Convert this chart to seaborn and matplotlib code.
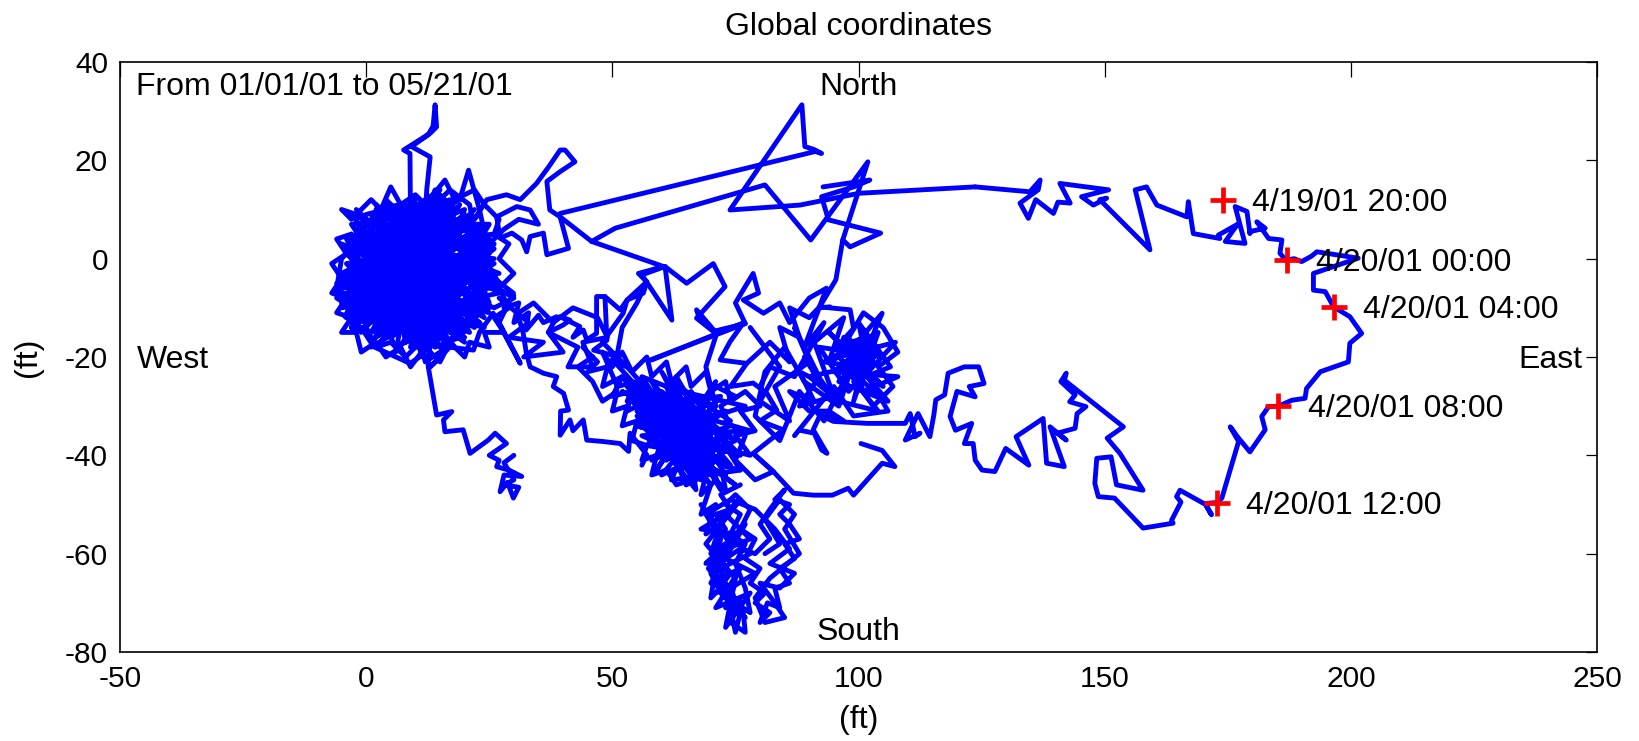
import matplotlib
matplotlib.use("Agg")
import matplotlib.pyplot as plt
import seaborn as sns

# track pieces, (x, y) in ft
blob = [(0, 0), (3, -4), (-2, -7), (4, -9), (1, -13), (7, -11), (5, -15), (10, -12), (8, -17), (13, -14),
        (11, -19), (15, -16), (14, -12), (19, -14), (17, -10), (22, -12), (20, -7), (25, -9), (23, -4), (27, -5),
        (24, 0), (26, 3), (21, 2), (23, 7), (18, 5), (20, 10), (15, 8), (17, 12), (12, 10), (15, 14),
        (9, 10), (10, 7), (5, 9), (7, 11), (2, 10), (4, 6), (-1, 7), (1, 3), (-4, 4), (-1, -1),
        (-5, -3), (-2, -6), (-6, -8), (-3, -10), (0, -12), (2, -8), (6, -6), (3, -2), (8, -3), (6, 2),
        (11, 0), (9, 4), (14, 2), (12, -4), (16, -2), (15, -7), (19, -5), (18, 0), (22, -2), (20, 4),
        (24, 5), (21, 8), (16, 6), (13, 5), (10, 9), (8, 5), (4, 2), (7, -1), (2, -3), (5, -6),
        (9, -8), (12, -8), (16, -11), (20, -10), (24, -7), (21, -4), (17, -3), (13, -1), (10, -5), (6, -9),
        (3, -12), (-1, -10), (-4, -5), (-2, 0), (0, 5), (3, 8), (6, 10), (11, 11), (16, 10), (19, 7),
        (23, 3), (25, -2), (22, -8), (18, -12), (13, -16), (9, -14), (5, -12), (1, -6), (4, -1), (8, 1),
        (12, 3), (15, -1), (11, -6), (7, -4), (2, 1), (-3, 2), (1, 8), (8, 8), (14, 11), (18, 8),
        (21, 5), (17, 1), (14, -4), (18, -8), (23, -11), (19, -16), (14, -18), (10, -16), (6, -18), (4, -14),
        (0, -15), (-3, -14), (1, -9), (5, -3), (9, -1), (13, -9), (17, -13), (21, -15), (16, -6), (12, 1),
        (9, 3), (5, 5), (1, 1), (-2, 3), (-5, 0), (-6, -6), (-2, -9), (2, -11), (7, -14), (11, -10),
        (15, -12), (19, -9), (23, -6), (26, -6), (24, -1), (20, 1), (16, 4), (13, 8), (9, 9), (4, 10),
        (0, 9), (-2, 5), (2, 4), (6, 6), (10, 2), (14, 6), (18, 3), (22, 6), (21, 11), (17, 14),
        (13, 10), (10, 11), (6, 8), (3, 5), (-1, -3), (3, -7), (8, -10), (12, -12), (16, -15), (11, -15),
        (7, -7), (10, -3), (15, -4), (20, -2), (25, 1), (23, 10), (20.8, 18), (19, 12), (15, 10), (11, 9),
        (13, 0), (17, -4), (21, -8), (26, -10), (30, -8), (25, -5), (20, -13), (15, -19), (12, -21), (11, -17),
        (8, -20), (5, -17), (2, -18), (0, -14), (-3, -14), (-1, -8)]
blob_chords = [(0, -1), (22, 4), (-3, -8), (19, -15), (6, 10), (25, -6), (-2, 6), (14, -17), (17, 11), (-4, -3),
               (23, -10), (3, 10), (8, -17), (24, 2), (-1, -12), (20, 9), (1, -5), (26, -3), (5, -16), (12, 11),
               (-5, -6), (21, -4), (9, -18), (16, 8), (-2, -11), (24, -9), (2, 7), (18, -14), (11, 10), (0, -9),
               (25, 4), (4, -13), (15, 10), (-3, 2), (20, -11), (7, 9), (13, -17), (22, 7), (-1, -4), (19, -7),
               (6, -12), (10, 10), (23, -1), (-4, -9), (16, -16), (14, 7), (1, -15), (26, 0), (3, 2), (18, 12),
               (8, -15), (-3, 5), (21, -12), (11, -2), (5, 10), (24, -12), (0, 3), (17, -9), (2, -14), (13, 9)]
blob_chords2 = [(-3, -4), (26, -1), (2, -16), (18, 10), (-5, -9), (24, 6), (6, -19), (12, 12), (-2, -13),
                (27, -7), (1, 9), (15, -18), (-4, 1), (22, -14), (8, 11), (25, -10), (-1, 6), (20, -17),
                (4, -6), (23, 9), (-6, -5), (17, -1), (3, -17), (19, 11), (-3, -11), (26, 2), (7, -13),
                (10, 12), (0, -7), (24, -4), (5, 8), (13, -19), (-4, -1), (21, 3), (9, -16), (16, 12),
                (-2, -5), (25, -11), (2, 11), (14, -14), (-5, 3), (23, -8), (6, -15), (11, 8), (-1, -15),
                (22, 10), (3, -9), (18, -18), (-3, 9), (27, -3), (8, -5), (15, 13), (-4, -12), (20, -3),
                (4, 12), (12, -20), (0, -3), (26, 5), (7, 3), (17, -15), (-2, 10), (24, -14), (9, -10),
                (14, 14), (1, -18), (21, -6), (-5, -10), (19, 5), (5, -2), (11, -14), (-3, 7), (25, 7),
                (10, -18), (16, 1), (-1, -9), (23, -13), (2, 5), (13, 12), (6, -7), (20, -16)]
blob_fringe = [(-3, 8), (-5, 10), (-2, 9), (1, 12), (3, 10), (5, 14.6), (7, 11), (10, 13), (12, 11), (16, 16),
               (18, 12), (22, 14), (24, 11), (27, 8), (26, 5), (29, 3), (27, 0), (30, -3), (27, -6), (29, -10),
               (26, -12), (28, -15), (24, -15), (25, -18), (21, -17), (20, -20), (17, -17), (15, -21), (12, -18),
               (9, -22), (7, -18), (4, -20), (2, -17), (-1, -19), (-2, -15), (-5, -15), (-3, -12), (-6, -11),
               (-4, -8), (-7, -7), (-5, -4), (-7, -1), (-4, 1), (-6, 4), (-3, 5)]
blob_edge = [(-2, -2), (-6, -6.7), (-3, -9), (-4.3, -11.8), (-1, -14), (1.5, -17.9), (8.9, -21.3), (11, -19.9),
             (15.3, -19.9), (13, -22), (17, -18), (21.8, -18.6), (23, -15), (25.8, -11.1), (31.3, -21.3),
             (27, -13), (29.9, -7), (26, -4)]
spike = [(9, 9), (8.9, 21.4), (7.6, 22.1), (13, 25.5), (14.3, 26.8), (14, 31.3), (13.6, 27), (12.6, 25.2),
         (9.2, 22.8), (13, 20.7), (12.3, 14), (12, 8)]
ne_cluster = [(22, 8), (24.5, 12), (28.5, 13), (31.3, 12), (34.6, 15.3), (37.3, 19), (39.4, 22.1), (40.4, 22.1),
              (42.4, 19.7), (39.4, 17.7), (36.7, 15.7), (37.3, 9.9), (39.4, 8.5), (41.1, 2.1), (36.7, 0.8),
              (36, 5.2), (33.3, 4.5), (32.6, 1.4), (31.6, 3.8), (29.6, 5.2), (27.2, 4.2), (26.5, 8.5),
              (30.6, 10.6), (33.3, 9.9), (35, 7), (31, 8), (28, 6), (25, 3)]
tail = [(13, -16), (12.6, -21.9), (14.3, -31.8), (17.4, -31.1), (15.7, -32.8), (16, -35.2), (19.7, -34.8),
        (21.1, -39.6), (24.8, -36.9), (26.2, -35.5), (28.5, -37.6), (25, -40), (27, -41), (26.5, -42.3),
        (29, -43), (31.6, -44.3), (28, -44), (27.2, -47.4), (28.7, -45.5), (29.9, -48.7), (31, -46.5),
        (28, -46), (30, -45), (28, -41.5), (30, -40)]
corridor = [(26, -6), (30, -7.5), (28, -10), (31, -9), (30, -13), (33, -11), (32.5, -14.5), (35, -11.5),
            (36, -13), (38.7, -11.8), (37, -15), (40, -13.5), (41.4, -12.5), (39.4, -11.8), (43.4, -13.8),
            (42, -16), (44.1, -14.5), (44.8, -16.5), (46.8, -15.2), (46.8, -7.7), (48.5, -7.7), (48.9, -16.6),
            (46.2, -18.6), (50.9, -19.9), (48, -17), (52.2, -11.1), (53, -8.4), (56.3, -7), (57, -4.7),
            (55, -9), (52, -14), (50.9, -19.9), (52.9, -22), (50, -20.5), (54.3, -25.3)]
corridor2 = [(31, -12), (31.9, -15.2), (32.5, -19), (33.3, -22), (36, -23.3), (38.7, -24), (38, -26),
             (40.1, -27.4), (41.1, -30.8), (39.5, -31), (39.4, -35.9), (41.4, -32.8), (42, -35), (44.1, -32.8),
             (44.8, -36.9), (48.2, -37.2), (51.6, -37.6), (53.3, -39.2), (53.6, -35.5), (57, -39.9), (56, -42)]
corridor3 = [(27, -8), (33, -13), (29, -16), (36, -17), (32, -20), (40, -19), (37, -15), (43, -18), (41, -22),
             (46, -22), (44, -17), (49, -16), (47, -12), (42, -10), (38, -13), (34, -9), (31, -11)]
mid = [(53, -22), (60, -30), (55, -27), (64, -36), (58, -25), (70, -40), (62, -31), (52, -24), (66, -42),
       (57, -33), (72, -35), (61, -26), (68, -45), (55, -31), (74, -42), (63, -29), (59, -40), (71, -30),
       (56, -24), (65, -38), (60, -44), (75, -37), (58, -28), (67, -33), (54, -29), (70, -46), (62, -35),
       (77, -30), (64, -27), (58, -37), (73, -44), (60, -23), (68, -38), (55, -34), (76, -40), (66, -30),
       (61, -41), (72, -28), (57, -30), (69, -43), (63, -33), (52, -27), (71, -37), (59, -32), (65, -46),
       (74, -33), (62, -25), (67, -41), (56, -36), (78, -35), (64, -31), (60, -38), (70, -33), (54, -25),
       (73, -39), (66, -44), (58, -34), (75, -46), (63, -37), (69, -28), (61, -29), (67, -36), (57, -27),
       (72, -42), (65, -33), (59, -43), (71, -25), (64, -40), (53, -26), (68, -31), (62, -45), (76, -43),
       (66, -27), (60, -35), (73, -31), (58, -41), (70, -36), (63, -24), (67, -47), (55, -32), (74, -36),
       (61, -33), (69, -40), (57, -38), (65, -29), (72, -47), (60, -27), (68, -34), (64, -43), (59, -31)]
mid2 = [(44, -18), (47, -21), (45, -23), (49, -22), (48, -26), (52, -24), (50, -28), (54, -27), (53, -31),
        (57, -29), (55, -34), (59, -32), (58, -37), (62, -35), (60, -40), (64, -38), (63, -43), (67, -41),
        (65, -46), (69, -44), (68, -48), (71, -45), (73, -47), (72, -42), (76, -43), (74, -39), (78, -40),
        (75, -36), (79, -35), (76, -31), (80, -30), (77, -27), (74, -29), (73, -25), (70, -27), (69, -23),
        (66, -26), (65, -22), (62, -25), (61, -21), (58, -24), (57, -20), (54, -23), (52, -19), (50, -22),
        (48, -19), (51, -26), (55, -25), (53, -29), (58, -27), (56, -32), (61, -30), (59, -35), (64, -33),
        (62, -38), (67, -36), (65, -41), (70, -39), (68, -44), (72, -40), (71, -35), (74, -34), (72, -30),
        (75, -28), (71, -26), (68, -30), (66, -28), (63, -31), (61, -28), (58, -31), (57, -35), (60, -34),
        (61, -37), (64, -36), (66, -39), (69, -37), (70, -42), (66, -45), (63, -46), (61, -43), (58, -44),
        (59, -40), (56, -41), (57, -38), (54, -37), (55, -33), (52, -34), (53, -30), (50, -31), (51, -27),
        (48, -29), (46, -25), (43, -22), (46, -20)]
mid_right = [(71, -30), (69, -22), (71.2, -15.2), (67.8, -12.5), (67.1, -10.4), (71.2, -15.2), (76.6, -13.1),
             (73.9, -16.9), (71.9, -20.6), (77.3, -21.3), (74, -26), (78.6, -25.3), (81.4, -27.4),
             (83.4, -30.8), (80, -33), (84.7, -34.8), (82, -36.9), (78.6, -39.6), (82.7, -43.3), (79, -45),
             (75, -41), (77, -36), (73, -33)]
mid_link = [(58, -20.6), (76.6, -13.1)]
south = [(70, -46), (68, -52), (71, -50), (69, -56), (72, -54), (70, -60), (73, -58), (69.5, -63), (72, -66),
         (70.5, -62), (74, -64), (71, -68), (75, -66), (73, -71), (76, -69), (74, -74), (77, -76), (76.5, -71),
         (78, -72), (77, -67), (75, -62), (77, -58), (74, -56), (76, -52), (73, -50), (75, -48), (78, -51),
         (76, -55), (79, -57), (77, -61), (80, -63), (78, -66), (81, -68), (79, -70), (82, -72), (80, -74),
         (81.5, -70), (84, -71), (83, -67), (86, -66), (84, -63), (87, -61), (85, -58), (88, -57), (86, -54),
         (84, -52), (86, -50), (83, -49), (85, -47), (82, -51), (80, -54), (82, -57), (79, -60), (76, -59),
         (73, -61), (71, -58), (73, -55), (71, -52), (74, -51), (72, -48), (76, -46)]
south2 = [(68, -50), (74, -58), (69, -62), (77, -54), (70, -66), (76, -63), (71, -71), (78, -68), (73, -75),
          (75, -65), (69, -58), (76, -49), (70, -54), (78, -60), (72, -63), (74, -70), (77, -73), (72, -68),
          (70, -64), (75, -56), (68, -55), (73, -52), (78, -57), (71, -60), (79, -64), (74, -67), (76, -72),
          (75, -76), (73, -66), (70, -69), (72, -57), (69, -52), (74, -49), (79, -51), (83, -55), (86, -59),
          (82, -62), (87, -64), (84, -67), (80, -66), (83, -70), (85, -73), (81, -74), (79, -69), (82, -65),
          (88, -60), (85, -55), (87, -52), (84, -49), (81, -53), (84, -58), (81, -60)]
bottom_link = [(78.6, -39.6), (82.7, -43.3), (86.8, -47.7), (90.8, -48.1), (94.7, -48.1), (97.9, -46.7),
               (99, -48.1), (104.8, -41.6), (107.4, -42.3), (104.8, -39), (100.5, -37.6)]
mid_top = [(39.4, 8.5), (45.8, 3.5), (60.4, -1.6), (55.3, -3), (57, -4.7), (53, -8.4), (51.6, -10.4),
           (48.5, -7.7)]
mid_top2 = [(60.7, -1.6), (62.1, -12.5), (56, -3.3), (60.7, -1.6), (65.1, -5), (70.5, -1), (72.9, -5.7),
            (67.1, -12.1), (70.5, -14.8), (77, -13.2), (57.7, -20.6)]
mid_top3 = [(77, -13.2), (75, -9), (78.6, -3), (79.7, -7), (76.6, -8.4), (80.7, -11.1), (84, -9), (86, -13),
            (90, -8), (93.5, -6), (92, -10), (94.2, -9.8)]
zline = [(39.4, 9.2), (91.2, 21.8), (92.5, 21.4), (91, 22.2), (89.1, 22.8), (88.5, 31.3), (73.9, 9.9),
         (88.1, 10.9), (100.1, 13.3), (123.7, 14.6)]
diag2 = [(45.8, 3.5), (50.6, 6.2), (81, 15), (90.3, 3.8), (101.9, 19.7), (96.8, 3.8), (95.4, -4.3),
         (92.1, -9.8), (98.3, -10.4), (99, -14.2)]
zext = [(92.8, 14.6), (102.3, 16), (99, 14.6), (92.5, 12.6), (93.9, 7.9), (104.5, 5.2), (98.3, 2.4),
        (96.8, 3.8)]
mid_link2 = [(77.3, -21.3), (82, -17), (86, -21), (84, -14), (88, -16), (86, -10), (90, -12), (92.1, -9.8),
             (89, -18), (93, -13), (87, -24), (82, -22), (80, -26)]
upper_mid = [(99, -14.2), (95.5, -18), (101.5, -16), (97, -22), (104, -19), (99, -25), (106.5, -22),
             (100, -13), (103, -27), (96, -20), (107.5, -17), (102, -23), (94, -15), (105, -26), (98, -19),
             (104.8, -11.1), (101, -20), (96, -25), (106, -29), (100, -22), (93, -21), (104, -15), (99, -29),
             (102, -17), (95, -23), (108, -24), (101, -27), (97, -16), (105, -20), (92, -18), (98, -27),
             (103, -21), (90, -24), (96, -29), (104, -31), (100, -26), (94, -27), (89, -20), (92, -25),
             (88, -23), (91, -29), (86, -27), (90, -31), (94, -31), (97, -33), (92.2, -31.8)]
upper_mid2 = [(78, -14), (84, -22), (80, -29), (86, -33), (83, -26), (90, -21), (87, -14), (92, -24), (88, -30),
              (95, -28), (91, -17), (97, -12), (94, -21), (100, -18), (96, -30), (89, -25), (85, -18), (81, -23),
              (79, -32), (84, -37), (88, -27), (93, -33), (98, -23), (103, -30), (107, -26), (104, -22),
              (108, -19), (105, -14), (101, -11), (98, -16), (102, -24), (106, -31), (99, -32), (95, -26),
              (91, -31), (87, -36)]
east_loop = [(88.1, -34.9), (91, -35.5), (92.5, -38.9), (93.6, -39.6), (90.8, -34.8), (92.2, -31.8),
             (94.9, -33.1), (101.7, -33.5), (109.5, -33.5), (110.5, -31.5), (111.5, -36.2), (112.5, -35.5),
             (109.5, -36.9), (112.1, -31.5), (114.5, -36.2), (115.3, -31.8), (115.7, -28.7), (117.5, -27.7),
             (118.2, -23.3), (121.5, -22), (124.4, -22), (125.5, -25.4), (122.5, -26), (123.7, -28.1),
             (120, -27), (118.6, -32.1), (119.7, -34.9), (123, -33.5), (121.5, -37.6), (123.3, -37.6),
             (123.7, -41), (125.1, -43), (127.7, -43.3), (129.9, -38.6), (134.6, -42), (132, -36.2),
             (137.5, -32.5), (138.2, -41.6), (141.8, -42.3), (138.9, -34.2), (142.2, -36.9), (140.4, -35.5),
             (144, -34.5), (144.4, -31.5), (146.2, -30.1), (142.9, -29.1), (144, -27.7), (141.1, -25),
             (142.2, -23.3), (141.8, -24.7), (153.8, -34.2), (150.5, -36.5), (153.1, -39.6), (157.8, -47.1),
             (152.4, -46), (151.3, -40.3), (148.4, -40.6), (148, -45.7), (148.7, -48.4), (152, -48.7),
             (157.8, -54.8), (163.9, -53.8), (163.6, -53.2), (165.5, -49.5), (164.6, -48.4), (165.3, -47.1),
             (170.5, -50), (171.7, -52.1), (170.4, -49.8), (172.8, -49.6), (173.8, -48.7), (175.1, -44.3),
             (177.2, -37.2), (175.5, -34.2), (177.2, -36.5), (179.5, -39.3), (182.6, -34.8), (181.9, -32.1),
             (183.3, -30.1), (185.3, -30), (188, -28.8), (190.7, -28.4), (191, -26.4), (193.8, -23),
             (199.5, -21), (199.8, -17.2), (202.2, -15.2), (199.8, -11.8), (196.5, -9.8), (194.8, -6.7),
             (192.4, -6.4), (192.4, -3), (201.5, 0.1), (193.1, 1.4), (192, 0.5), (190, -0.6), (188.5, 0),
             (186.8, -0.3), (185.6, 1.1), (186, 3.8), (183.3, 4.1), (180.9, 7.5), (182.6, 6.2), (179.5, 5.5),
             (179.5, 5.1), (178.9, 9.6), (176.5, 10.6), (178.5, 3.1), (174.5, 3.5), (177, 7), (173.1, 4.8),
             (173.4, 4.1), (168, 5.1), (167, 11.6), (166.7, 8.5), (160.6, 10.9), (158.5, 14.6), (156.2, 14),
             (159.2, 1.8), (149, 12), (150.4, 12.3), (147.7, 10.9), (145.3, 12.6), (150.8, 14), (140.9, 15.3),
             (143, 11.3), (140.5, 11.5), (139.6, 9.2), (136, 12), (134.5, 8.2), (132.8, 11.3), (136.5, 14),
             (136.9, 16), (134.8, 13.6), (123.7, 14.6)]

segments = [blob, blob_chords, blob_chords2, blob_fringe, blob_edge, spike, ne_cluster, tail, corridor,
            corridor2, corridor3, mid, mid2, mid_right, mid_link, south, south2, bottom_link, mid_top,
            mid_top2, mid_top3, zline, diag2, zext, mid_link2, upper_mid, upper_mid2, east_loop]

# red crosses on 19-20 April and their labels
mark_x = [174.0, 187.0, 196.5, 185.3, 172.8]
mark_y = [11.9, -0.3, -9.8, -30.0, -49.6]
mark_labels = ["4/19/01 20:00", "4/20/01 00:00", "4/20/01 04:00", "4/20/01 08:00", "4/20/01 12:00"]

sns.set_theme(style="white")
plt.rcParams['font.family'] = ['Liberation Sans', 'DejaVu Sans']
plt.rcParams['axes.unicode_minus'] = False
plt.rcParams['text.color'] = 'black'
plt.rcParams['axes.labelcolor'] = 'black'

fig = plt.figure(figsize=(16.4, 7.41), dpi=100)
ax = fig.add_axes([120 / 1640, 1 - 652 / 741, 1477 / 1640, 590 / 741])

for seg in segments:
    xs = [p[0] for p in seg]
    ys = [p[1] for p in seg]
    sns.lineplot(x=xs, y=ys, sort=False, estimator=None, color="#0000ff", linewidth=3.5, ax=ax)

sns.scatterplot(x=mark_x, y=mark_y, marker="+", s=330, color="#ff0000", linewidth=3.4, zorder=5, ax=ax)
for x, y, lab in zip(mark_x, mark_y, mark_labels):
    ax.text(x + 6, y - 2.3, lab, fontsize=23, color="black", ha="left", va="baseline")

ax.text(-46.7, 33.2, "From 01/01/01 to 05/21/01", fontsize=23, ha="left", va="baseline")
ax.text(100, 33.3, "North", fontsize=23, ha="center", va="baseline")
ax.text(100, -77.5, "South", fontsize=23, ha="center", va="baseline")
ax.text(-46.5, -22.3, "West", fontsize=23, ha="left", va="baseline")
ax.text(247, -22.2, "East", fontsize=23, ha="right", va="baseline")

ax.set_xlim(-50, 250)
ax.set_ylim(-80, 40)
ax.set_xticks(range(-50, 251, 50))
ax.set_yticks(range(-80, 41, 20))
ax.set_title("Global coordinates", fontsize=23, color="black", pad=19.5)
ax.set_xlabel("(ft)", fontsize=23, labelpad=8.5)
ax.set_ylabel("(ft)", fontsize=23, labelpad=16)

for sp in ax.spines.values():
    sp.set_color("black")
    sp.set_linewidth(1.2)
ax.tick_params(direction="in", top=True, right=True, labelsize=21.5, colors="black", width=0.9)
ax.tick_params(axis="x", length=11, pad=9.5)
ax.tick_params(axis="y", length=8, pad=8.6)

fig.savefig("out.png", dpi=100, facecolor="white")
